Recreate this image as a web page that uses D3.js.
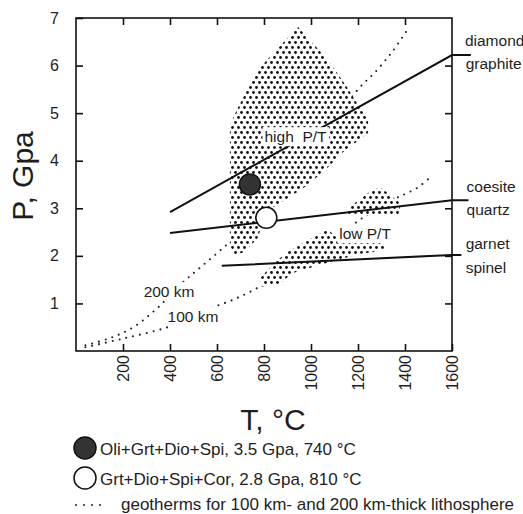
<!DOCTYPE html>
<html>
<head>
<meta charset="utf-8">
<script src="https://cdn.jsdelivr.net/npm/d3@7"></script>
<style>
body { margin: 0; background: #fff; }
svg text { font-family: "Liberation Sans", Arial, Helvetica, sans-serif; fill: #1e1e1e; }
</style>
</head>
<body>
<div id="chart"></div>
<script>
// axis ticks: temperature (°C) and pressure (GPa)
var tTicks = [200, 400, 600, 800, 1000, 1200, 1400, 1600];
var pTicks = [1, 2, 3, 4, 5, 6, 7];

// phase boundaries, [T, P]
var diamondGraphite = [[400, 2.92], [1600, 6.22], [1680, 6.22]];
var coesiteQuartz = [[400, 2.48], [1600, 3.17], [1670, 3.17]];
var garnetSpinel = [[620, 1.79], [1600, 2.02], [1640, 2.02]];

// geotherms for 200 km and 100 km thick lithosphere
var geo200 = [[40, 0.12], [150, 0.28], [250, 0.52], [350, 0.92], [450, 1.42], [530, 1.76],
	[615, 2.12], [700, 2.5], [800, 3.0], [900, 3.55], [1000, 4.15], [1100, 4.85],
	[1200, 5.5], [1280, 5.9], [1350, 6.32], [1410, 6.75]];
var geo100 = [[40, 0.08], [200, 0.26], [390, 0.5], [500, 0.72], [585, 0.92], [670, 1.08],
	[755, 1.28], [850, 1.55], [950, 1.85], [1050, 2.18], [1150, 2.55], [1250, 2.9],
	[1350, 3.18], [1400, 3.3], [1450, 3.42], [1500, 3.62]];

// stippled fields
var highPT = [[945, 6.81], [995, 6.54], [1072, 6.12], [1153, 5.55], [1196, 5.21], [1243, 4.86],
	[1243, 4.58], [1132, 4.16], [1060, 3.8], [974, 3.45], [889, 3.17], [817, 2.96],
	[791, 2.65], [774, 2.38], [719, 2.08], [672, 2.02], [655, 2.23], [655, 4.75],
	[685, 5.07], [728, 5.49], [774, 5.91], [860, 6.37]];
var lowPT = [[791, 1.35], [783, 1.53], [847, 1.87], [911, 2.12], [987, 2.33], [1072, 2.56],
	[1102, 2.42], [1166, 2.31], [1311, 2.31], [1311, 2.12], [1209, 2.04], [1123, 1.93],
	[1026, 1.79], [923, 1.64], [860, 1.39]];
var lowPTpatch = [[1294, 3.45], [1379, 3.11], [1379, 2.86], [1136, 2.86], [1166, 3.03], [1243, 3.32]];

// samples
var samples = [
	{name: "Oli+Grt+Dio+Spi", t: 740, p: 3.5, filled: true},
	{name: "Grt+Dio+Spi+Cor", t: 810, p: 2.8, filled: false}
];

// labels inside the plot (masked) and boundary names on the right
var fieldLabels = [
	{text: "high  P/T", t: 934, p: 4.39},
	{text: "low P/T", t: 1230, p: 2.35},
	{text: "200 km", t: 396, p: 1.135},
	{text: "100 km", t: 498, p: 0.61}
];
var boundaryLabels = [
	{text: "diamond", t: 1655, p: 6.41},
	{text: "graphite", t: 1658, p: 5.93},
	{text: "coesite", t: 1662, p: 3.34},
	{text: "quartz", t: 1662, p: 2.86},
	{text: "garnet", t: 1658, p: 2.15},
	{text: "spinel", t: 1658, p: 1.65}
];
var geothermNote = "geotherms for 100 km- and 200 km-thick lithosphere";

var width = 523;
var height = 514;
var plotLeft = 76, plotRight = 452, plotTop = 18, plotBottom = 351;

var svg = d3.select("#chart")
	.append("svg")
	.attr("width", width)
	.attr("height", height);

var xScale = d3.scaleLinear().domain([0, 1600]).range([plotLeft, plotRight]);
var yScale = d3.scaleLinear().domain([0, 7]).range([plotBottom, plotTop]);

// stipple pattern, kept on whole pixels so the dots stay crisp
var pat = svg.append("defs").append("pattern")
	.attr("id", "stipple")
	.attr("patternUnits", "userSpaceOnUse")
	.attr("width", 6)
	.attr("height", 10);
pat.append("rect").attr("width", 6).attr("height", 10).attr("fill", "#fff");
pat.append("circle").attr("cx", 1.5).attr("cy", 2.5).attr("r", 1.4).attr("fill", "#111");
pat.append("circle").attr("cx", 4.5).attr("cy", 7.5).attr("r", 1.4).attr("fill", "#111");

var line = d3.line()
	.x(function(d){ return xScale(d[0]); })
	.y(function(d){ return yScale(d[1]); });

var curve = d3.line()
	.x(function(d){ return xScale(d[0]); })
	.y(function(d){ return yScale(d[1]); })
	.curve(d3.curveCatmullRom);

// geotherms
[geo200, geo100].forEach(function(g){
	svg.append("path")
		.attr("d", curve(g))
		.attr("fill", "none")
		.attr("stroke", "#222")
		.attr("stroke-width", 2.1)
		.attr("stroke-linecap", "round")
		.attr("stroke-dasharray", "0,7");
});

// stippled fields
[highPT, lowPT, lowPTpatch].forEach(function(poly){
	svg.append("path")
		.attr("d", line(poly) + "Z")
		.attr("fill", "url(#stipple)");
});

// phase boundaries
[diamondGraphite, coesiteQuartz, garnetSpinel].forEach(function(b){
	svg.append("path")
		.attr("d", line(b))
		.attr("fill", "none")
		.attr("stroke", "#111")
		.attr("stroke-width", 2);
});

// samples
svg.selectAll("circle.sample")
	.data(samples)
	.enter()
	.append("circle")
	.attr("class", "sample")
	.attr("cx", function(d){ return xScale(d.t); })
	.attr("cy", function(d){ return yScale(d.p); })
	.attr("r", 10.5)
	.attr("fill", function(d){ return d.filled ? "#333" : "#fff"; })
	.attr("stroke", "#111")
	.attr("stroke-width", 1.5);

// masked labels inside the plot
fieldLabels.forEach(function(l){
	var g = svg.append("g");
	var txt = g.append("text")
		.attr("x", xScale(l.t))
		.attr("y", yScale(l.p))
		.attr("text-anchor", "middle")
		.style("white-space", "pre")
		.style("font-size", "15.5px")
		.text(l.text);
	var bb = txt.node().getBBox();
	g.insert("rect", "text")
		.attr("x", bb.x - 2)
		.attr("y", bb.y - 1)
		.attr("width", bb.width + 4)
		.attr("height", bb.height + 2)
		.attr("fill", "#fff");
});

// frame
svg.append("rect")
	.attr("x", plotLeft)
	.attr("y", plotTop)
	.attr("width", plotRight - plotLeft)
	.attr("height", plotBottom - plotTop)
	.attr("fill", "none")
	.attr("stroke", "#111")
	.attr("stroke-width", 1.6);

// axes with inward ticks
var xAxis = d3.axisBottom(xScale).tickValues(tTicks).tickFormat(d3.format("d"))
	.tickSizeInner(-7).tickSizeOuter(0).tickPadding(4);
var yAxis = d3.axisLeft(yScale).tickValues(pTicks).tickFormat(d3.format("d"))
	.tickSizeInner(-7).tickSizeOuter(0).tickPadding(17);

var gx = svg.append("g")
	.attr("class", "x axis")
	.attr("transform", "translate(0," + plotBottom + ")")
	.call(xAxis);
gx.selectAll("text")
	.attr("transform", "rotate(-90)")
	.attr("x", -4)
	.attr("y", 0)
	.attr("dy", "0.36em")
	.attr("text-anchor", "end");

var gy = svg.append("g")
	.attr("class", "y axis")
	.attr("transform", "translate(" + plotLeft + ",0)")
	.call(yAxis);

svg.append("g")
	.attr("transform", "translate(0," + plotTop + ")")
	.call(d3.axisTop(xScale).tickValues(tTicks.slice(0, -1)).tickSizeInner(-7).tickSizeOuter(0).tickFormat(""));
svg.append("g")
	.attr("transform", "translate(" + plotRight + ",0)")
	.call(d3.axisRight(yScale).tickValues(pTicks.slice(0, -1)).tickSizeInner(-7).tickSizeOuter(0).tickFormat(""));

svg.selectAll(".domain").remove();
svg.selectAll(".tick line").attr("stroke", "#111").attr("stroke-width", 1.6);
svg.selectAll(".tick text")
	.style("font-size", "16px")
	.style("font-family", "'Liberation Sans', Arial, sans-serif")
	.attr("fill", "#1e1e1e");

// boundary names
svg.selectAll("text.bnd")
	.data(boundaryLabels)
	.enter()
	.append("text")
	.attr("class", "bnd")
	.attr("x", function(d){ return xScale(d.t); })
	.attr("y", function(d){ return yScale(d.p); })
	.style("font-size", "15.5px")
	.text(function(d){ return d.text; });

// axis titles
svg.append("text")
	.attr("transform", "translate(33,176) rotate(-90)")
	.attr("text-anchor", "middle")
	.style("font-size", "30px")
	.text("P, Gpa");

svg.append("text")
	.attr("x", 273)
	.attr("y", 430)
	.attr("text-anchor", "middle")
	.style("font-size", "30px")
	.text("T, °C");

// legend
var legend = svg.append("g").attr("class", "legend");
samples.forEach(function(d, i){
	var cy = 448 + i * 30;
	legend.append("circle")
		.attr("cx", 85)
		.attr("cy", cy)
		.attr("r", 11)
		.attr("fill", d.filled ? "#333" : "#fff")
		.attr("stroke", "#111")
		.attr("stroke-width", 1.5);
	legend.append("text")
		.attr("x", 100)
		.attr("y", cy + 7)
		.style("font-size", "17px")
		.text(d.name + ", " + d.p + " Gpa, " + d.t + " °C");
});
legend.append("line")
	.attr("x1", 76).attr("x2", 100.5)
	.attr("y1", 505).attr("y2", 505)
	.attr("stroke", "#222")
	.attr("stroke-width", 2)
	.attr("stroke-linecap", "round")
	.attr("stroke-dasharray", "0,8");
legend.append("text")
	.attr("x", 121)
	.attr("y", 510)
	.style("font-size", "17px")
	.text(geothermNote);
</script>
</body>
</html>
